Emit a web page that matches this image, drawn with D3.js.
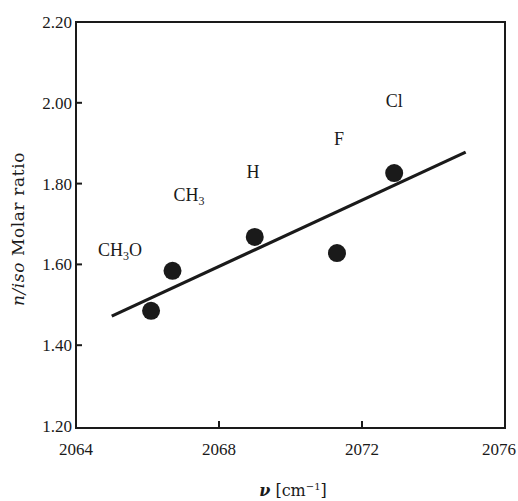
<!DOCTYPE html>
<html><head><meta charset="utf-8">
<script src="https://cdn.jsdelivr.net/npm/d3@7"></script>
<style>body{margin:0;background:#fff}svg{display:block}text{font-family:"Liberation Serif","DejaVu Serif",serif;fill:#1a1a1a}</style>
</head><body><svg id="c" width="518" height="501"></svg>
<script>
const substituents = ["CH\u2083O","CH\u2083","H","F","Cl"];
const labelMain = ["CH","CH","H","F","Cl"];
const labelSub = ["3","3","","",""];
const labelTail = ["O","","","",""];
const nu = [2066.1, 2066.7, 2069.0, 2071.3, 2072.9];
const ratio = [1.485, 1.584, 1.668, 1.628, 1.826];
const labelNu = [2065.23, 2067.16, 2068.95, 2071.36, 2072.9];
const labelRatio = [1.636, 1.772, 1.829, 1.910, 2.004];
const fitNu = [2065.0, 2074.9];
const fitRatio = [1.472, 1.878];
const xTicks = [2064, 2068, 2072, 2076];
const yTicks = [1.20, 1.40, 1.60, 1.80, 2.00, 2.20];

const svg = d3.select("#c");
const x = d3.scaleLinear().domain([2064, 2076]).range([76, 505]);
const y = d3.scaleLinear().domain([1.2, 2.2]).range([426, 22]);
const ink = "#1a1a1a";

// frame
svg.append("rect").attr("x", x(2064)).attr("y", y(2.2)).attr("width", x(2076)-x(2064)).attr("height", 428-y(2.2))
  .attr("fill","none").attr("stroke",ink).attr("stroke-width",2);

// y ticks (inward)
svg.append("g").selectAll("line").data(yTicks.slice(1,-1)).join("line")
  .attr("x1", x(2064)).attr("x2", x(2064)+6).attr("y1", d=>y(d)).attr("y2", d=>y(d))
  .attr("stroke",ink).attr("stroke-width",2);
svg.append("g").selectAll("text").data(yTicks).join("text")
  .attr("x", x(2064)-4).attr("y", d=>y(d)).attr("dy","0.35em").attr("text-anchor","end")
  .attr("font-size",17).text(d=>d.toFixed(2));

// x ticks (inward)
svg.append("g").selectAll("line").data(xTicks.slice(1,-1)).join("line")
  .attr("x1", d=>x(d)).attr("x2", d=>x(d)).attr("y1", 428).attr("y2", 421)
  .attr("stroke",ink).attr("stroke-width",2);
svg.append("g").selectAll("text").data(xTicks).join("text")
  .attr("x", (d,i)=> i===xTicks.length-1 ? 516 : x(d)).attr("y", 455)
  .attr("text-anchor",(d,i)=> i===xTicks.length-1 ? "end" : "middle")
  .attr("font-size",17).text(d=>d);

// fit line
svg.append("line").attr("x1", x(fitNu[0])).attr("y1", y(fitRatio[0]))
  .attr("x2", x(fitNu[1])).attr("y2", y(fitRatio[1]))
  .attr("stroke",ink).attr("stroke-width",3.2);

// points
svg.append("g").selectAll("circle").data(nu).join("circle")
  .attr("cx", d=>x(d)).attr("cy", (d,i)=>y(ratio[i])).attr("r", 9).attr("fill", ink);

// labels
const lab = svg.append("g").selectAll("text").data(substituents).join("text")
  .attr("x",(d,i)=>x(labelNu[i])).attr("y",(d,i)=>y(labelRatio[i])).attr("dy","0.35em")
  .attr("text-anchor","middle").attr("font-size",18);
lab.each(function(d,i){
  const t = d3.select(this);
  t.append("tspan").text(labelMain[i]);
  if (labelSub[i]) t.append("tspan").attr("font-size",12).attr("dy",4).text(labelSub[i]);
  if (labelTail[i]) t.append("tspan").attr("dy",-4).text(labelTail[i]);
});

// axis titles
const yt = svg.append("text").attr("transform","translate(24,229) rotate(-90)")
  .attr("text-anchor","middle").attr("font-size",17).attr("letter-spacing",0.6)
  .style("font-family","'DejaVu Serif',serif");
yt.append("tspan").attr("font-style","italic").text("n/iso");
yt.append("tspan").text(" Molar ratio");

const xt = svg.append("text").attr("x",293).attr("y",496).attr("text-anchor","middle")
  .attr("font-size",16).style("font-family","'DejaVu Serif',serif");
xt.append("tspan").attr("font-style","italic").attr("font-weight","bold").text("\u03bd");
xt.append("tspan").text(" [cm");
xt.append("tspan").attr("font-size",10).attr("dy",-6).text("\u22121");
xt.append("tspan").attr("dy",6).text("]");
</script></body></html>
